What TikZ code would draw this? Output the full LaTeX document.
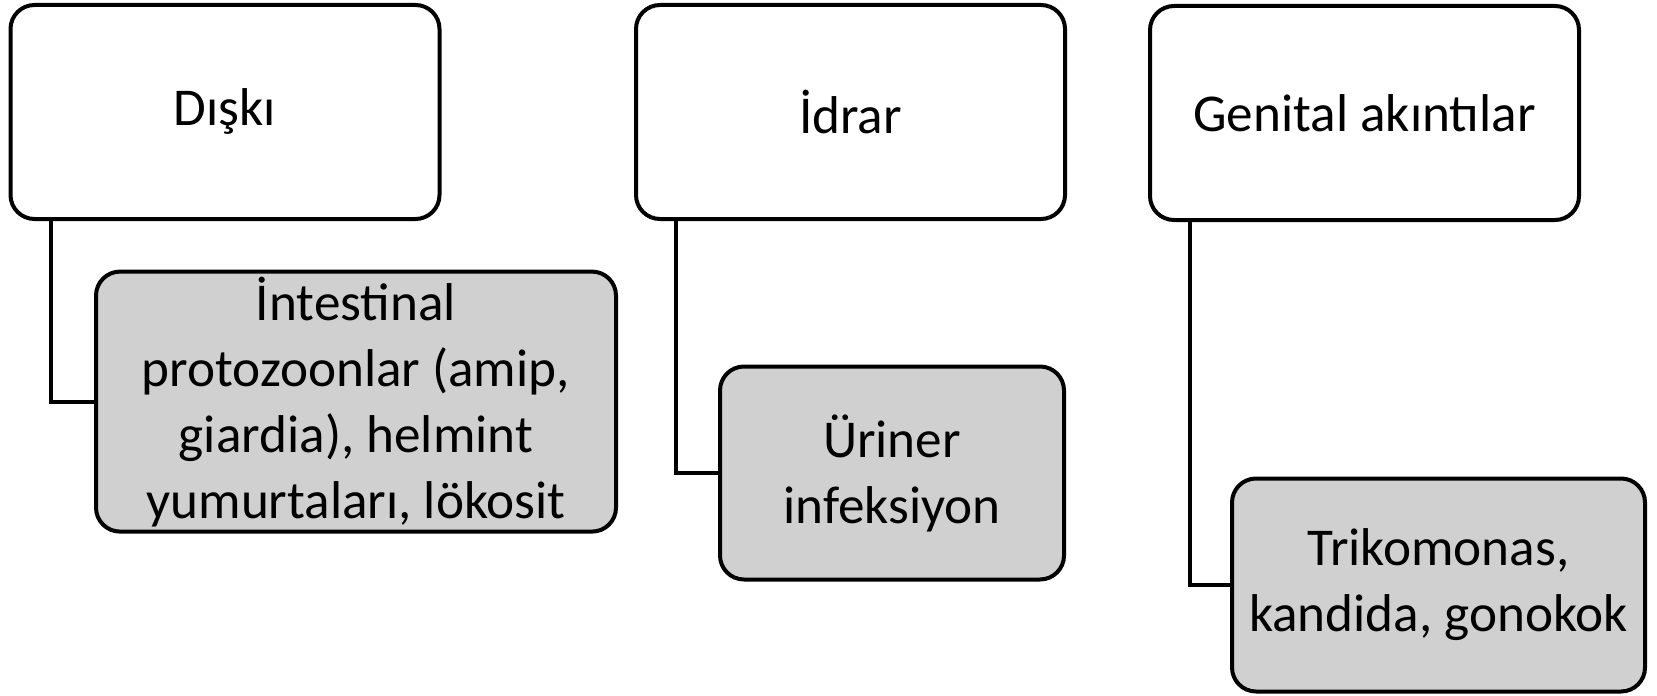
\documentclass[tikz,border=0pt]{standalone}
\usepackage{fontspec}
\setmainfont{Carlito}
\usetikzlibrary{positioning}
\definecolor{boxgray}{RGB}{208,208,208}

\tikzset{
  topbox/.style={draw=black, line width=2pt, rounded corners=12pt, fill=white,
    minimum width=214.5pt, minimum height=107pt, inner sep=0pt, align=center,
    font=\fontsize{26.6}{33}\selectfont},
  subbox/.style={topbox, fill=boxgray, minimum height=106.5pt},
  link/.style={black, line width=2pt}
}

\begin{document}
\begin{tikzpicture}[x=0.5pt, y=-0.5pt]
\useasboundingbox (0,0) rectangle (1657,695);

% Top row
\node[topbox] (diski) at (225,112) {Dışkı};
\node[topbox] (idrar) at (850.5,112) {İdrar};
\node[topbox] (genital) at (1364.5,113) {Genital akıntılar};

% Findings
\node[subbox, minimum width=260pt, minimum height=130pt] (diskisub) at (356,401.6)
  {İntestinal\\ protozoonlar (amip,\\ giardia), helmint\\ yumurtaları, lökosit};
\node[subbox, minimum width=172pt] (idrarsub) at (892,473) {Üriner\\ infeksiyon};
\node[subbox, minimum width=206.5pt] (genitalsub) at (1438.5,585) {Trikomonas,\\ kandida, gonokok};

% Connectors
\draw[link] ([xshift=21pt]diski.south west) |- (diskisub.west);
\draw[link] ([xshift=21pt]idrar.south west) |- (idrarsub.west);
\draw[link] ([xshift=21pt]genital.south west) |- (genitalsub.west);

\end{tikzpicture}
\end{document}
